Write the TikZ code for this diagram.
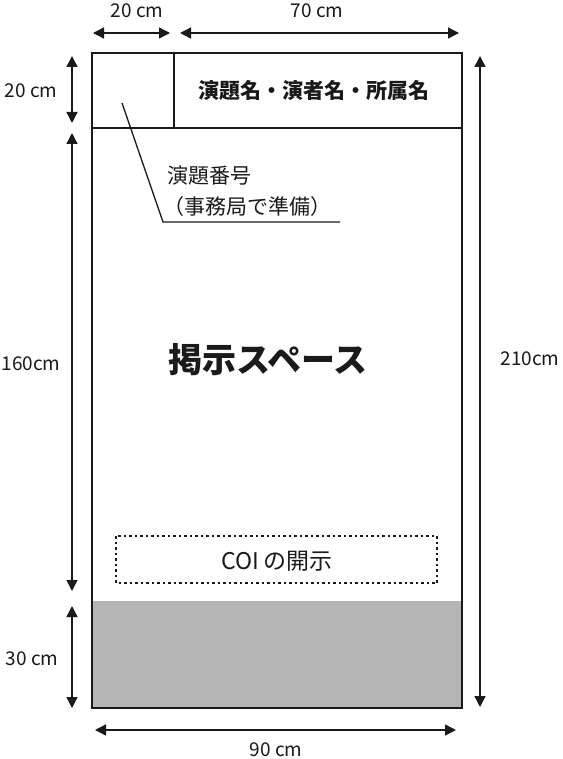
\documentclass[tikz,border=0pt]{standalone}
\usepackage{fontspec}
\setmainfont{Noto Sans CJK JP}
\usetikzlibrary{arrows.meta}
\definecolor{panelgray}{HTML}{B5B5B5}
\definecolor{ink}{HTML}{1A1A1A}
\tikzset{
  dimline/.style={draw=ink, line width=1.4pt, {Triangle[length=11pt,width=11pt]}-{Triangle[length=11pt,width=11pt]}},
  dimlabel/.style={font=\fontsize{19}{22}\selectfont, text=ink, inner sep=0pt},
  frame/.style={draw=ink, line width=2pt},
  jtext/.style={font=\fontsize{21}{26}\selectfont, text=ink, inner sep=0pt},
}
\begin{document}
\begin{tikzpicture}[x=1pt,y=-1pt]
\useasboundingbox[fill=white] (0,0) rectangle (562,759);
% gray bottom area
\fill[panelgray] (92,601) rectangle (462,708);
% frame
\draw[frame] (92,53) rectangle (462,708);
\draw[frame] (92,128) -- (462,128);
\draw[frame] (174,53) -- (174,128);
% header text
\node[jtext, font=\bfseries\fontsize{21}{25}\selectfont] (header) at (314,91) {演題名・演者名・所属名};
% leader
\coordinate (lA) at (122,103);
\coordinate (lB) at (163,222);
\coordinate (lC) at (340,222);
\draw[draw=ink, line width=1.3pt] (lA) -- (lB) -- (lC);
\node[jtext, anchor=west] (num1) at (167,176) {演題番号};
\node[jtext, anchor=west] (num2) at (163,207) {（事務局で準備）};
% main text
\node[jtext, font=\bfseries\fontsize{34}{40}\selectfont] (space) at (268,360) {掲示スペース};
% COI box
\draw[draw=ink, line width=1.6pt, dash pattern=on 2.5pt off 3pt] (116,536) rectangle (437,583);
\node[jtext, font=\fontsize{23}{27}\selectfont] (coi) at (277,561) {COI の開示};
% dimension lines
\coordinate (t1a) at (93,33); \coordinate (t1b) at (170,33);
\coordinate (t2a) at (180,33); \coordinate (t2b) at (459,33);
\draw[dimline] (t1a) -- (t1b);
\draw[dimline] (t2a) -- (t2b);
\node[dimlabel] (l20t) at (137,11) {20 cm};
\node[dimlabel] (l70t) at (317,11) {70 cm};
\coordinate (v1a) at (72,56); \coordinate (v1b) at (72,123);
\coordinate (v2a) at (72,133); \coordinate (v2b) at (72,591);
\coordinate (v3a) at (72,606); \coordinate (v3b) at (72,708);
\draw[dimline] (v1a) -- (v1b);
\draw[dimline] (v2a) -- (v2b);
\draw[dimline] (v3a) -- (v3b);
\node[dimlabel] (l20l) at (31,91) {20 cm};
\node[dimlabel] (l160) at (31,364) {160cm};
\node[dimlabel] (l30) at (32,659) {30 cm};
\coordinate (ra) at (480,56); \coordinate (rb) at (480,707);
\draw[dimline] (ra) -- (rb);
\node[dimlabel] (l210) at (530,359) {210cm};
\coordinate (ba) at (95,730); \coordinate (bb) at (456,730);
\draw[dimline] (ba) -- (bb);
\node[dimlabel] (l90) at (276,750) {90 cm};
\end{tikzpicture}
\end{document}
